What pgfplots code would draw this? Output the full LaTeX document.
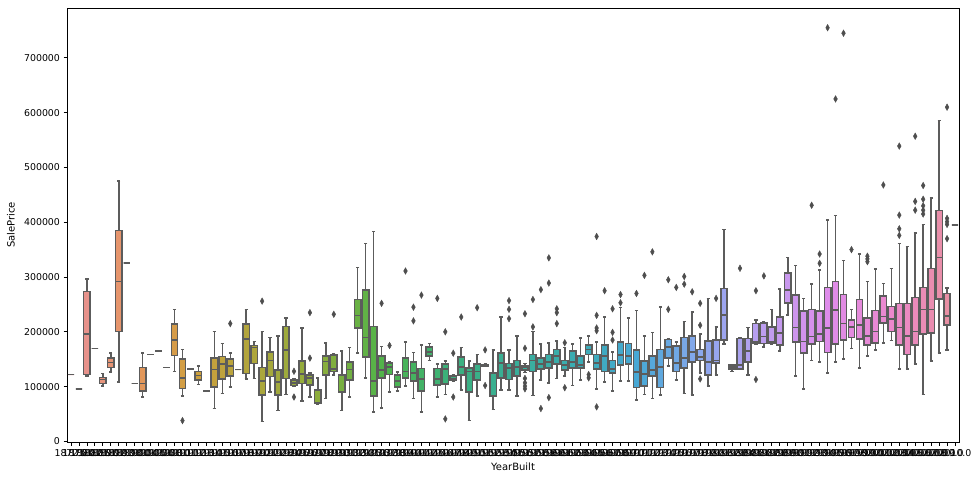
\documentclass[border=0pt]{standalone}
\usepackage{fontspec}
\setmainfont{DejaVu Sans}
\usepackage{pgfplots}
\pgfplotsset{compat=1.18}
\usepgfplotslibrary{statistics}
\definecolor{boxgray}{RGB}{92,92,92}
\newcommand{\bx}[7]{\addplot+[boxplot prepared={draw position=#1, lower whisker=#2, lower quartile=#3, median=#4, upper quartile=#5, upper whisker=#6}, fill, draw=boxgray, line width=1.5pt, mark=diamond*, mark size=3.3pt, mark options={fill=boxgray!85!black, draw=boxgray!85!black, xscale=0.75, line width=0.4pt, solid}] coordinates {#7};}
\begin{document}
\begin{tikzpicture}
\begin{axis}[
  at={(0,0)}, anchor=south west,
  scale only axis, width=892pt, height=434pt,
  colormap={husl}{rgb255=(232,145,154) rgb255=(229,150,95) rgb255=(205,160,61) rgb255=(171,167,60) rgb255=(138,174,60) rgb255=(77,180,75) rgb255=(59,177,124) rgb255=(57,174,152) rgb255=(58,172,178) rgb255=(72,168,214) rgb255=(140,168,238) rgb255=(190,158,240) rgb255=(222,140,234) rgb255=(236,136,204) rgb255=(232,144,159)},
  cycle list={[samples of colormap=112]},
  boxplot/draw direction=y,
  xmin=-0.5, xmax=111.5, ymin=-1.105, ymax=791.005,
  xtick={0,...,111},
  xticklabels={1872.0,1875.0,1880.0,1882.0,1885.0,1890.0,1892.0,1893.0,1898.0,1900.0,1904.0,1905.0,1906.0,1908.0,1910.0,1911.0,1912.0,1913.0,1914.0,1915.0,1916.0,1917.0,1918.0,1919.0,1920.0,1921.0,1922.0,1923.0,1924.0,1925.0,1926.0,1927.0,1928.0,1929.0,1930.0,1931.0,1932.0,1934.0,1935.0,1936.0,1937.0,1938.0,1939.0,1940.0,1941.0,1942.0,1945.0,1946.0,1947.0,1948.0,1949.0,1950.0,1951.0,1952.0,1953.0,1954.0,1955.0,1956.0,1957.0,1958.0,1959.0,1960.0,1961.0,1962.0,1963.0,1964.0,1965.0,1966.0,1967.0,1968.0,1969.0,1970.0,1971.0,1972.0,1973.0,1974.0,1975.0,1976.0,1977.0,1978.0,1979.0,1980.0,1981.0,1982.0,1983.0,1984.0,1985.0,1986.0,1987.0,1988.0,1989.0,1990.0,1991.0,1992.0,1993.0,1994.0,1995.0,1996.0,1997.0,1998.0,1999.0,2000.0,2001.0,2002.0,2003.0,2004.0,2005.0,2006.0,2007.0,2008.0,2009.0,2010.0},
  ytick={0,100,200,300,400,500,600,700},
  yticklabels={0,100000,200000,300000,400000,500000,600000,700000},
  tick align=outside, tick pos=left, major tick length=3.5pt,
  tick style={black, line width=0.8pt},
  axis line style={black, line width=0.8pt},
  tick label style={font=\fontsize{9.4}{11}\selectfont},
  label style={font=\fontsize{9.4}{11}\selectfont},
  xlabel={YearBuilt}, ylabel={SalePrice},
  every axis x label/.style={at={(axis description cs:0.5,0)}, yshift=-25pt, anchor=center},
  every axis y label/.style={at={(axis description cs:0,0.5)}, xshift=-56pt, rotate=90, anchor=center},
  boxplot/box extend=0.8, boxplot/whisker extend=0.4,
]
\bx{0}{122}{122}{122}{122}{122}{}
\bx{1}{96}{96}{96}{96}{96}{}
\bx{2}{119}{122}{196}{274}{296}{}
\bx{3}{170}{170}{170}{170}{170}{}
\bx{4}{101}{106}{113}{117}{124}{}
\bx{5}{127}{135}{144}{152}{161}{}
\bx{6}{108}{201}{292}{385}{475}{}
\bx{7}{326}{326}{326}{326}{326}{}
\bx{8}{106}{106}{106}{106}{106}{}
\bx{9}{81}{92}{106}{135}{161}{}
\bx{10}{159}{159}{159}{159}{159}{}
\bx{11}{165}{165}{165}{165}{165}{}
\bx{12}{135}{135}{135}{135}{135}{}
\bx{13}{128}{157}{185}{214}{241}{}
\bx{14}{83}{97}{116}{150}{168}{(0,38)}
\bx{15}{132}{132}{132}{132}{132}{}
\bx{16}{104}{112}{120}{128}{138}{}
\bx{17}{92}{92}{92}{92}{92}{}
\bx{18}{60}{99}{131}{152}{201}{}
\bx{19}{87}{114}{141}{155}{179}{}
\bx{20}{99}{119}{138}{150}{161}{(0,215)}
\bx{21}{131}{131}{131}{131}{131}{}
\bx{22}{114}{124}{187}{214}{241}{}
\bx{23}{115}{142}{171}{175}{182}{}
\bx{24}{36}{85}{110}{135}{201}{(0,256)}
\bx{25}{90}{118}{148}{163}{190}{}
\bx{26}{56}{85}{108}{130}{192}{}
\bx{27}{86}{115}{167}{210}{225}{}
\bx{28}{100}{102}{107}{112}{114}{(0,128) (0,81)}
\bx{29}{74}{106}{123}{147}{207}{}
\bx{30}{81}{103}{116}{121}{125}{(0,152) (0,235)}
\bx{31}{67}{69}{70}{94}{116}{}
\bx{32}{78}{121}{146}{156}{180}{}
\bx{33}{121}{128}{132}{158}{160}{(0,232)}
\bx{34}{56}{89}{90}{121}{165}{}
\bx{35}{81}{112}{131}{145}{171}{}
\bx{36}{161}{207}{230}{259}{317}{}
\bx{37}{116}{154}{190}{276}{361}{}
\bx{38}{54}{83}{110}{210}{383}{}
\bx{39}{61}{116}{130}{156}{173}{(0,252)}
\bx{40}{90}{122}{136}{143}{146}{(0,175)}
\bx{41}{92}{99}{110}{121}{127}{}
\bx{42}{101}{116}{128}{152}{181}{(0,311)}
\bx{43}{78}{110}{125}{145}{162}{(0,220) (0,245)}
\bx{44}{54}{92}{114}{133}{176}{(0,267)}
\bx{45}{148}{156}{163}{172}{179}{}
\bx{46}{81}{103}{114}{133}{141}{(0,261)}
\bx{47}{86}{105}{132}{141}{147}{(0,200) (0,41)}
\bx{48}{110}{112}{115}{119}{121}{(0,161) (0,81)}
\bx{49}{94}{121}{136}{154}{171}{(0,227)}
\bx{50}{38}{90}{128}{134}{147}{}
\bx{51}{83}{112}{128}{141}{159}{(0,244)}
\bx{52}{137}{138}{139}{140}{141}{(0,167) (0,102)}
\bx{53}{58}{83}{124}{125}{167}{}
\bx{54}{94}{116}{143}{161}{227}{}
\bx{55}{94}{113}{134}{142}{167}{(0,224) (0,241) (0,257)}
\bx{56}{83}{119}{136}{148}{192}{}
\bx{57}{126}{130}{136}{138}{142}{(0,170) (0,233) (0,115) (0,107) (0,101) (0,96)}
\bx{58}{84}{128}{148}{159}{201}{(0,209) (0,259)}
\bx{59}{112}{132}{141}{152}{178}{(0,277) (0,60)}
\bx{60}{107}{134}{145}{159}{180}{(0,289) (0,335) (0,80)}
\bx{61}{115}{141}{156}{168}{183}{(0,215) (0,235) (0,242)}
\bx{62}{119}{130}{139}{148}{171}{(0,180) (0,98)}
\bx{63}{102}{134}{145}{165}{178}{}
\bx{64}{112}{134}{139}{156}{189}{}
\bx{65}{145}{159}{168}{176}{192}{(0,122) (0,116)}
\bx{66}{96}{132}{143}{159}{181}{(0,230) (0,207) (0,202) (0,63) (0,374)}
\bx{67}{108}{128}{156}{176}{227}{(0,275)}
\bx{68}{92}{125}{132}{148}{163}{(0,185) (0,199) (0,242)}
\bx{69}{110}{139}{158}{181}{244}{(0,253) (0,268)}
\bx{70}{110}{141}{156}{179}{225}{}
\bx{71}{76}{98}{127}{167}{239}{(0,270)}
\bx{72}{86}{101}{123}{147}{192}{(0,303)}
\bx{73}{78}{119}{130}{156}{199}{(0,346)}
\bx{74}{85}{98}{136}{168}{245}{}
\bx{75}{138}{152}{172}{186}{188}{(0,241) (0,295)}
\bx{76}{112}{128}{143}{174}{181}{(0,281)}
\bx{77}{87}{134}{152}{190}{219}{(0,287) (0,301)}
\bx{78}{85}{145}{163}{192}{236}{(0,273)}
\bx{79}{125}{148}{154}{168}{196}{(0,212) (0,252) (0,114)}
\bx{80}{101}{121}{145}{183}{261}{}
\bx{81}{121}{143}{148}{185}{209}{(0,261)}
\bx{82}{178}{185}{231}{279}{387}{}
\bx{83}{128}{132}{136}{139}{140}{}
\bx{84}{131}{132}{139}{188}{190}{(0,316)}
\bx{85}{121}{145}{165}{188}{208}{}
\bx{86}{178}{179}{181}{215}{222}{(0,275) (0,113)}
\bx{87}{172}{179}{191}{216}{218}{(0,302)}
\bx{88}{178}{179}{181}{209}{241}{}
\bx{89}{165}{176}{198}{227}{278}{}
\bx{90}{231}{253}{276}{307}{336}{}
\bx{91}{119}{181}{208}{267}{321}{}
\bx{92}{96}{161}{182}{238}{261}{}
\bx{93}{148}{178}{191}{241}{287}{(0,431)}
\bx{94}{145}{182}{196}{238}{313}{(0,325) (0,342)}
\bx{95}{125}{162}{207}{281}{404}{(0,755)}
\bx{96}{145}{178}{240}{292}{412}{(0,625)}
\bx{97}{150}{185}{215}{268}{330}{(0,745)}
\bx{98}{170}{190}{209}{222}{241}{(0,350)}
\bx{99}{134}{187}{212}{259}{342}{}
\bx{100}{156}{176}{192}{225}{292}{(0,328) (0,333) (0,338)}
\bx{101}{167}{180}{201}{239}{315}{}
\bx{102}{180}{216}{228}{265}{288}{(0,468)}
\bx{103}{184}{201}{223}{246}{316}{}
\bx{104}{132}{176}{208}{252}{361}{(0,376) (0,388) (0,413) (0,539)}
\bx{105}{132}{159}{192}{252}{356}{}
\bx{106}{141}{176}{201}{263}{380}{(0,422) (0,438) (0,557)}
\bx{107}{86}{196}{241}{281}{396}{(0,415) (0,422) (0,430) (0,442) (0,467)}
\bx{108}{147}{198}{241}{316}{444}{}
\bx{109}{161}{260}{336}{421}{586}{}
\bx{110}{167}{212}{229}{270}{280}{(0,370) (0,396) (0,401) (0,407) (0,610)}
\bx{111}{395}{395}{395}{395}{395}{}
\end{axis}
\pgfresetboundingbox
\path[use as bounding box] (-67pt,-38pt) rectangle (908pt,442pt);
\end{tikzpicture}
\end{document}
